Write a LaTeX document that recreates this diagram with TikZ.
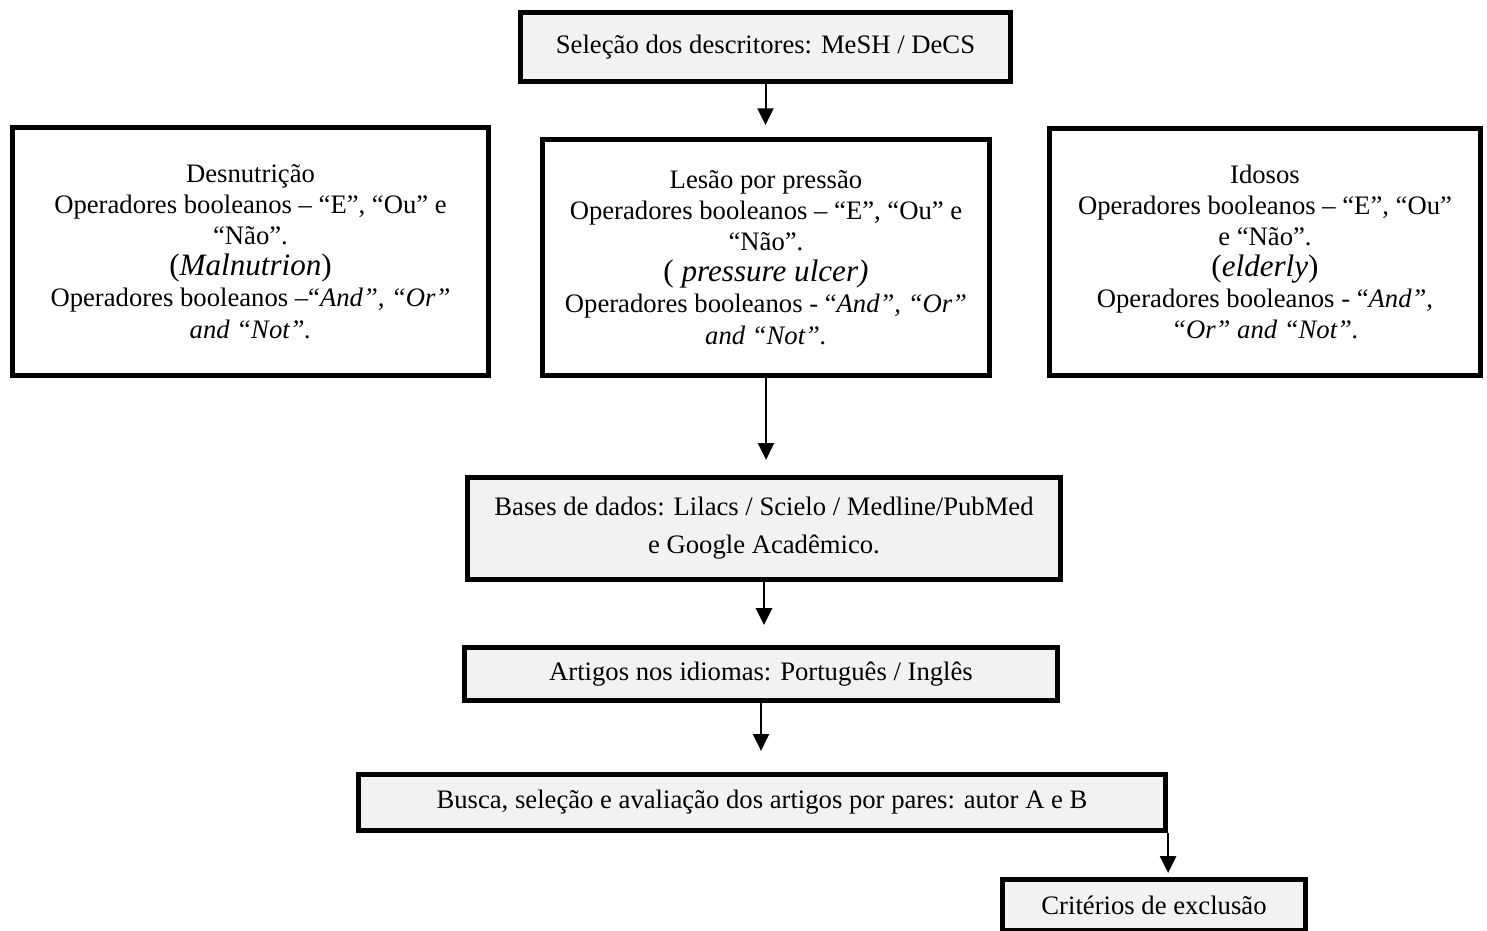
\documentclass[tikz,border=0pt]{standalone}
\usepackage{fontspec}
\setmainfont{Liberation Serif}
\usetikzlibrary{arrows.meta}
\definecolor{boxgray}{HTML}{F2F2F2}
\begin{document}
\begin{tikzpicture}[x=0.45pt, y=-0.45pt,
	box/.style={draw=black, line width=2.3pt, rectangle, align=center, inner sep=0pt, font=\fontsize{12}{14}\selectfont},
	graybox/.style={box, fill=boxgray},
	whitebox/.style={box, fill=white},
	arr/.style={line width=0.9pt, -{Triangle[width=7.2pt,length=7.5pt]}}]
		\clip (0,0) rectangle (1487,931);
		\node[graybox, minimum width=220.5pt, minimum height=31pt] (sel) at (765.5,47) {Seleção dos descritores: MeSH / DeCS};

		\node[whitebox, minimum width=214.2pt, minimum height=111.6pt] (desn) at (250.5,251.5) {Desnutrição\\ Operadores booleanos – “E”, “Ou” e\\ “Não”.\\ {\fontsize{14}{15}\selectfont(\textit{Malnutrion})}\\ Operadores booleanos –“\textit{And”, “Or”}\\ \textit{and “Not”.}};
		\node[whitebox, minimum width=201.2pt, minimum height=106.2pt] (lesao) at (766,257.5) {Lesão por pressão\\ Operadores booleanos – “E”, “Ou” e\\ “Não”.\\ {\fontsize{14}{15}\selectfont( \textit{pressure ulcer)}}\\ Operadores booleanos - “\textit{And”, “Or”}\\ \textit{and “Not”.}};
		\node[whitebox, minimum width=194pt, minimum height=111pt] (idosos) at (1265,252) {Idosos\\ Operadores booleanos – “E”, “Ou”\\ e “Não”.\\ {\fontsize{14}{15}\selectfont(\textit{elderly})}\\ Operadores booleanos - “\textit{And”,}\\ \textit{“Or” and “Not”.}};

		\node[graybox, minimum width=266.9pt, minimum height=45.9pt] (bases) at (764,528.5) {Bases de dados: Lilacs / Scielo / Medline/PubMed\\[3pt] e Google Acadêmico.};
		\node[graybox, minimum width=266.9pt, minimum height=23.9pt] (artigos) at (761,674) {Artigos nos idiomas: Português / Inglês};
		\node[graybox, minimum width=363.2pt, minimum height=25.2pt] (busca) at (762,802.5) {Busca, seleção e avaliação dos artigos por pares: autor A e B};
		\node[graybox, minimum width=136.4pt, minimum height=23pt] (crit) at (1154,905) {Critérios de exclusão};

		\draw[arr, shorten >=5.4pt] (sel.south) -- (sel.south |- lesao.north);
		\draw[arr, shorten >=6.8pt] (lesao.south) -- (lesao.south |- bases.north);
		\draw[arr, shorten >=9pt] (bases.south) -- (bases.south |- artigos.north);
		\draw[arr, shorten >=9.5pt] (artigos.south) -- (artigos.south |- busca.north);
		\draw[arr, shorten >=1.8pt] (busca.south east) -- (busca.south east |- crit.north);
\end{tikzpicture}
\end{document}
